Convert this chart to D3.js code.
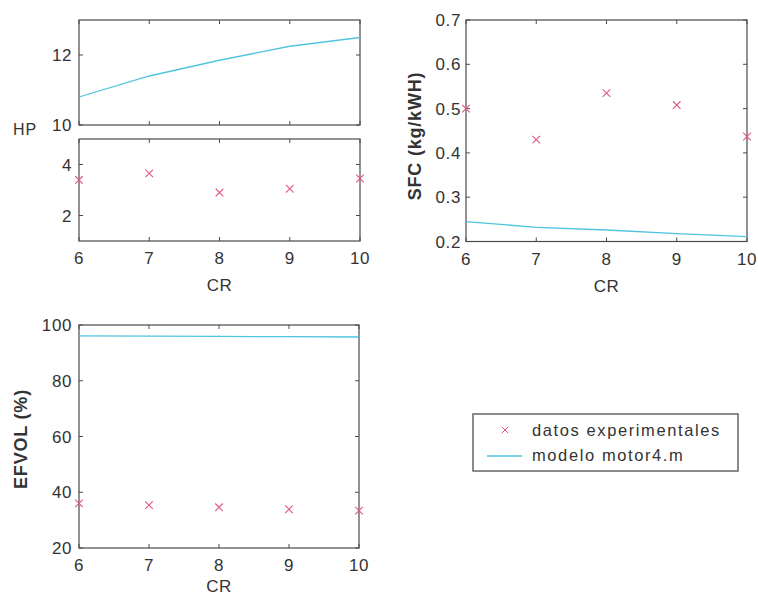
<!DOCTYPE html>
<html>
<head>
<meta charset="utf-8">
<script src="https://cdn.jsdelivr.net/npm/d3@7"></script>
<style>
  html, body { margin: 0; padding: 0; background: #fff; }
  svg { display: block; }
  text { font-family: "Liberation Sans", Arial, sans-serif; fill: #333; }
</style>
</head>
<body>
<svg id="chart" width="758" height="599"></svg>
<script>
// Compression ratio sweep
const CR = [6, 7, 8, 9, 10];

// Power (HP): model and experiment
const hpModel = [10.8, 11.4, 11.85, 12.25, 12.5];
const hpExp = [3.4, 3.65, 2.9, 3.05, 3.45];

// Specific fuel consumption (kg/kWH)
const sfcExp = [0.50, 0.43, 0.535, 0.508, 0.437];
const sfcModel = [0.245, 0.232, 0.226, 0.218, 0.211];

// Volumetric efficiency (%)
const efvolExp = [36.0, 35.4, 34.6, 33.9, 33.4];
const efvolModel = [96.1, 96.0, 95.9, 95.8, 95.7];

// Tick labels
const xTicks = [6, 7, 8, 9, 10];
const hpTopTicks = [10, 12];
const hpBottomTicks = [2, 4];
const sfcTicks = [0.2, 0.3, 0.4, 0.5, 0.6, 0.7];
const efvolTicks = [20, 40, 60, 80, 100];

const legendLabels = ["datos experimentales", "modelo motor4.m"];

const LINE_COLOR = "#4fc4df";
const MARK_COLOR = "#e0587c";
const FRAME_COLOR = "#4a4a4a";
const TICK_FONT = 17;

const svg = d3.select("#chart");

function panel(opts) {
  const x = d3.scaleLinear().domain([6, 10]).range(opts.xr);
  const y = d3.scaleLinear().domain(opts.yd).range(opts.yr);
  const g = svg.append("g");
  const [x0, x1] = opts.xr;
  const [yb, yt] = opts.yr;

  // frame
  g.append("rect")
    .attr("x", x0).attr("y", yt)
    .attr("width", x1 - x0).attr("height", yb - yt)
    .attr("fill", "none").attr("stroke", FRAME_COLOR).attr("stroke-width", 1.2);

  // inward ticks on all four sides
  const tl = 4;
  xTicks.forEach(v => {
    g.append("line").attr("x1", x(v)).attr("x2", x(v)).attr("y1", yb).attr("y2", yb - tl)
      .attr("stroke", FRAME_COLOR);
    g.append("line").attr("x1", x(v)).attr("x2", x(v)).attr("y1", yt).attr("y2", yt + tl)
      .attr("stroke", FRAME_COLOR);
  });
  opts.yTicks.forEach(v => {
    g.append("line").attr("x1", x0).attr("x2", x0 + tl).attr("y1", y(v)).attr("y2", y(v))
      .attr("stroke", FRAME_COLOR);
    g.append("line").attr("x1", x1).attr("x2", x1 - tl).attr("y1", y(v)).attr("y2", y(v))
      .attr("stroke", FRAME_COLOR);
  });

  // y tick labels
  g.selectAll(".ylab").data(opts.yTicks).enter().append("text")
    .attr("x", x0 - opts.yLabGap)
    .attr("y", d => y(d))
    .attr("dy", "0.36em")
    .attr("text-anchor", "end")
    .attr("font-size", TICK_FONT)
    .attr("letter-spacing", 0.6)
    .text(d => opts.fmt ? opts.fmt(d) : d);

  // x tick labels and axis title
  if (opts.xLabels) {
    g.selectAll(".xlab").data(xTicks).enter().append("text")
      .attr("x", d => x(d))
      .attr("y", yb + 23)
      .attr("text-anchor", "middle")
      .attr("font-size", TICK_FONT)
      .attr("letter-spacing", 0.6)
      .text(d => d);
    g.append("text")
      .attr("x", (x0 + x1) / 2)
      .attr("y", yb + opts.titleGap)
      .attr("text-anchor", "middle")
      .attr("font-size", 17)
      .attr("letter-spacing", 0.5)
      .text("CR");
  }

  // model curve
  if (opts.model) {
    const line = d3.line().x((d, i) => x(CR[i])).y(d => y(d));
    g.append("path").datum(opts.model)
      .attr("d", line)
      .attr("fill", "none")
      .attr("stroke", LINE_COLOR)
      .attr("stroke-width", 1.3);
  }

  // experimental points as x-marks
  if (opts.exp) {
    const s = 3.8;
    opts.exp.forEach((v, i) => {
      const cx = x(CR[i]), cy = y(v);
      g.append("path")
        .attr("d", `M${cx - s},${cy - s}L${cx + s},${cy + s}M${cx - s},${cy + s}L${cx + s},${cy - s}`)
        .attr("stroke", MARK_COLOR)
        .attr("stroke-width", 1.1)
        .attr("fill", "none");
    });
  }
  return { x, y };
}

// HP: upper axis (model)
panel({ xr: [79, 360], yr: [125, 20], yd: [10, 13], yTicks: hpTopTicks, yLabGap: 7, model: hpModel });
// HP: lower axis (experiment)
panel({ xr: [79, 360], yr: [241, 139], yd: [1, 5], yTicks: hpBottomTicks, yLabGap: 7,
        exp: hpExp, xLabels: true, titleGap: 50 });
svg.append("text").attr("x", 25).attr("y", 135).attr("text-anchor", "middle")
  .attr("font-size", 16).attr("letter-spacing", 0.8).text("HP");

// SFC
panel({ xr: [466, 747], yr: [241.5, 20], yd: [0.2, 0.7], yTicks: sfcTicks, yLabGap: 5,
        fmt: d3.format(".1f"), exp: sfcExp, model: sfcModel, xLabels: true, titleGap: 50 });
svg.append("text")
  .attr("transform", "translate(421,136) rotate(-90)")
  .attr("text-anchor", "middle")
  .attr("font-size", 18).attr("font-weight", "bold").attr("letter-spacing", 0.8)
  .text("SFC (kg/kWH)");

// EFVOL
panel({ xr: [79, 359], yr: [548, 325], yd: [20, 100], yTicks: efvolTicks, yLabGap: 7,
        exp: efvolExp, model: efvolModel, xLabels: true, titleGap: 44 });
svg.append("text")
  .attr("transform", "translate(27,439) rotate(-90)")
  .attr("text-anchor", "middle")
  .attr("font-size", 18).attr("font-weight", "bold").attr("letter-spacing", 0.8)
  .text("EFVOL (%)");

// Legend
const lg = svg.append("g");
lg.append("rect").attr("x", 473).attr("y", 414).attr("width", 265).attr("height", 57)
  .attr("fill", "#fff").attr("stroke", "#666").attr("stroke-width", 1.5);
{
  const cx = 505, cy = 430, s = 3.2;
  lg.append("path")
    .attr("d", `M${cx - s},${cy - s}L${cx + s},${cy + s}M${cx - s},${cy + s}L${cx + s},${cy - s}`)
    .attr("stroke", MARK_COLOR).attr("stroke-width", 1);
  lg.append("line").attr("x1", 487).attr("x2", 522).attr("y1", 456).attr("y2", 456)
    .attr("stroke", LINE_COLOR).attr("stroke-width", 1.3);
}
lg.selectAll(".lt").data(legendLabels).enter().append("text")
  .attr("x", 532)
  .attr("y", (d, i) => 436 + i * 25)
  .attr("font-size", 16.5)
  .attr("letter-spacing", 1.6)
  .text(d => d);
</script>
</body>
</html>
